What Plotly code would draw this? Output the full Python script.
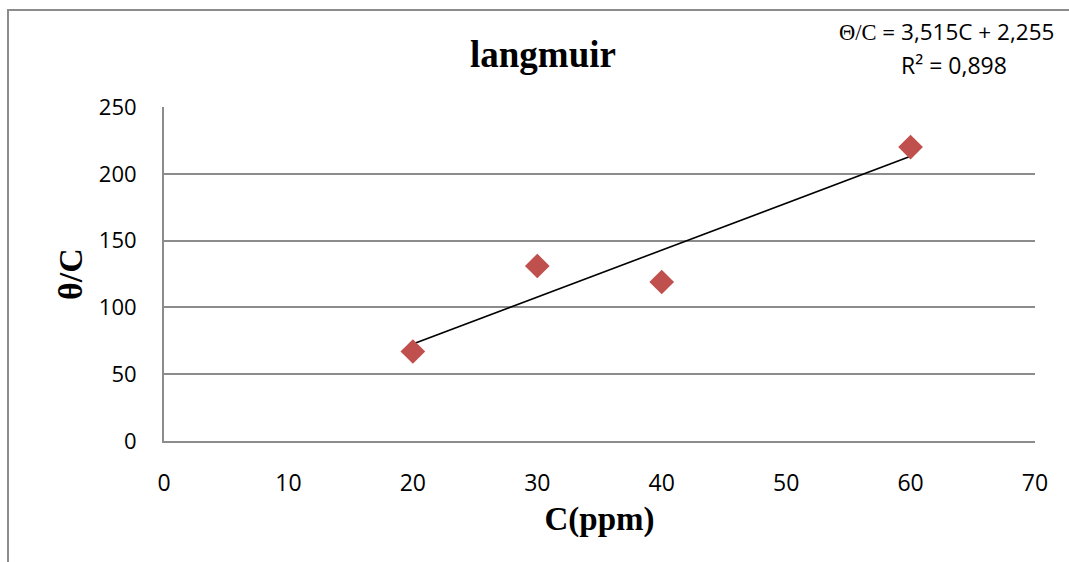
import plotly.graph_objects as go

# Langmuir isotherm data: concentration vs theta/C
c_ppm = [20, 30, 40, 60]
theta_over_c = [67, 131, 119, 220]

# Linear trendline parameters
slope = 3.515
intercept = 2.255
r_squared = 0.898

x_ticks = [0, 10, 20, 30, 40, 50, 60, 70]
y_ticks = [0, 50, 100, 150, 200, 250]

trend_x = [min(c_ppm), max(c_ppm)]
trend_y = [slope * v + intercept for v in trend_x]

W, H = 1069, 562
L, R, T, B = 164, 34, 107, 121
pw, ph = W - L - R, H - T - B


def px_x(p):
    return (p - L) / pw


def px_y(p):
    return 1 + (T - p) / ph


fig = go.Figure()
fig.add_trace(go.Scatter(
    x=trend_x, y=trend_y, mode="lines",
    line=dict(color="black", width=1.6), showlegend=False, hoverinfo="skip",
))
fig.add_trace(go.Scatter(
    x=c_ppm, y=theta_over_c, mode="markers",
    marker=dict(symbol="diamond", size=19, color="#C0504D",
                line=dict(width=0)),
    showlegend=False,
))

serif = "Liberation Serif, Times New Roman, serif"
sans = "Open Sans, Calibri, sans-serif"

fig.update_layout(
    width=W, height=H,
    margin=dict(l=L, r=R, t=T, b=B),
    paper_bgcolor="white", plot_bgcolor="white",
    xaxis=dict(
        range=[0, 70], tickvals=x_ticks, showgrid=False, zeroline=False,
        showline=True, linecolor="#8c8c8c", linewidth=2,
        ticks="outside", ticklen=20, tickcolor="rgba(0,0,0,0)",
        tickfont=dict(family=sans, size=23, color="black"),
        title=dict(text="<b>C(ppm)</b>", font=dict(family=serif, size=33, color="black"), standoff=10),
    ),
    yaxis=dict(
        range=[0, 250], tickvals=y_ticks, showgrid=True, gridcolor="#8c8c8c", gridwidth=1.5,
        zeroline=False, showline=True, linecolor="#8c8c8c", linewidth=2,
        ticks="outside", ticklen=21, tickcolor="rgba(0,0,0,0)",
        tickfont=dict(family=sans, size=22, color="black"),
        title=dict(text="<b>θ/C</b>", font=dict(family=serif, size=34, color="black"), standoff=6),
    ),
    shapes=[
        dict(type="rect", xref="paper", yref="paper",
             x0=px_x(8), x1=px_x(1200), y0=px_y(700), y1=px_y(10),
             line=dict(color="#8c8c8c", width=2), fillcolor="rgba(0,0,0,0)", layer="below"),
    ],
    annotations=[
        dict(text="<b>langmuir</b>", xref="paper", yref="paper",
             x=px_x(543), y=px_y(55), showarrow=False,
             font=dict(family=serif, size=37, color="black"),
             xanchor="center", yanchor="middle"),
        dict(text="<span style='font-family:Liberation Serif'>Θ/C</span> = 3,515C + 2,255",
             xref="paper", yref="paper", x=px_x(946), y=px_y(31), showarrow=False,
             font=dict(family=sans, size=22.5, color="black"),
             xanchor="center", yanchor="middle"),
        dict(text="R² = 0,898", xref="paper", yref="paper",
             x=px_x(954), y=px_y(65), showarrow=False,
             font=dict(family=sans, size=23, color="black"),
             xanchor="center", yanchor="middle"),
    ],
)

fig.write_html("out.html")
